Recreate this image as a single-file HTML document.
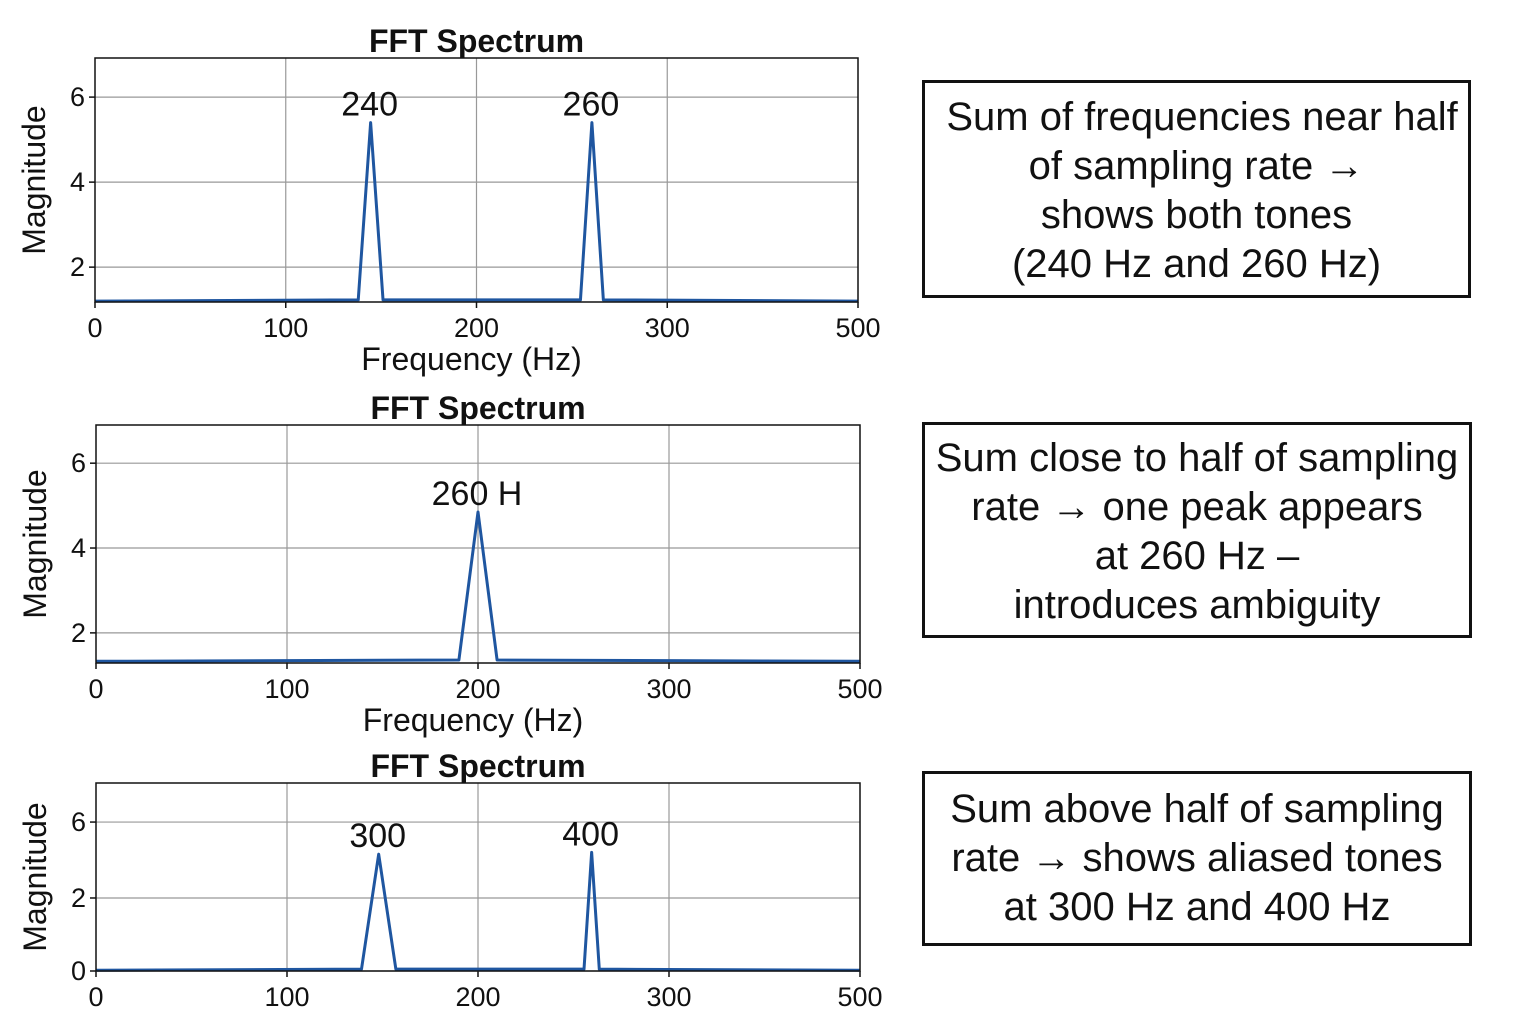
<!DOCTYPE html>
<html><head><meta charset="utf-8"><style>
body{margin:0;background:#fff;width:1536px;height:1024px;overflow:hidden;font-family:"Liberation Sans",sans-serif}
svg text{font-family:"Liberation Sans",sans-serif}
.box{position:absolute;border:3px solid #111;box-sizing:border-box;display:flex;flex-direction:column;justify-content:center;align-items:center;font-size:40px;line-height:49px;text-align:center;color:#111;white-space:nowrap}
</style></head><body>
<svg id="svg" width="1536" height="1024"></svg>
<div class="box" style="left:922px;top:80px;width:549px;height:218px;padding-top:4px"><div>&nbsp;Sum of frequencies near half</div><div>of sampling rate →</div><div>shows both tones</div><div>(240 Hz and 260 Hz)</div></div>
<div class="box" style="left:922px;top:422px;width:550px;height:216px;padding-top:4px"><div>Sum close to half of sampling</div><div>rate → one peak appears</div><div>at 260 Hz –</div><div>introduces ambiguity</div></div>
<div class="box" style="left:922px;top:771px;width:550px;height:175px"><div>Sum above half of sampling</div><div>rate → shows aliased tones</div><div>at 300 Hz and 400 Hz</div></div>
<script>
const xTickVals=[0,100,200,300,400];
const xTickLabels=["0","100","200","300","500"];
const c1PeakFreq=[144.5,260.5];
const c1PeakMag=[5.4,5.4];
const c1PeakWidth=[6.5,6];
const c1Base=1.2;
const c1Labels=["240","260"];
const c2PeakFreq=[200];
const c2PeakMag=[4.85];
const c2PeakWidth=[10];
const c2Base=1.33;
const c2Labels=["260 H"];
const c3PeakFreq=[148,259.5];
const c3PeakMag=[3.2,3.25];
const c3PeakWidth=[9,4];
const c3Base=0.02;
const c3Labels=["300","400"];
const yTick1=[2,4,6], yTick1L=["2","4","6"];
const yTick3=[0,2,4.08], yTick3L=["0","2","6"];

const NS="http://www.w3.org/2000/svg";
const svg=document.getElementById('svg');
function mk(tag,attrs,parent){const e=document.createElementNS(NS,tag);for(const k in attrs)e.setAttribute(k,attrs[k]);(parent||svg).appendChild(e);return e;}
function chart(cfg){
  const g=mk('g',{});
  
  
  const sx=v=>cfg.x0+(v-0)/400*(cfg.x1-cfg.x0);
  const sy=v=>cfg.y1-(v-cfg.ymin)/(cfg.ymax-cfg.ymin)*(cfg.y1-cfg.y0);
  xTickVals.forEach((v,i)=>{
    if(i>0&&i<xTickVals.length-1){const l=mk('line',{x1:sx(v),x2:sx(v),y1:cfg.y0,y2:cfg.y1,stroke:'#999','stroke-width':1.2},g);}
    mk('line',{x1:sx(v),x2:sx(v),y1:cfg.y1,y2:cfg.y1+6,stroke:'#111','stroke-width':1.5},g);
    const t=mk('text',{x:sx(v),y:cfg.y1+35,'text-anchor':'middle','font-size':27,fill:'#111'},g);t.textContent=xTickLabels[i];
    
  });
  cfg.yt.forEach((v,i)=>{
    const l=mk('line',{x1:cfg.x0,x2:cfg.x1,y1:sy(v),y2:sy(v),stroke:'#999','stroke-width':1.2},g);
    
    mk('line',{x1:cfg.x0-6,x2:cfg.x0,y1:sy(v),y2:sy(v),stroke:'#111','stroke-width':1.5},g);
    const t=mk('text',{x:cfg.x0-10,y:sy(v)+9,'text-anchor':'end','font-size':27,fill:'#111'},g);t.textContent=cfg.ytl[i];
    
  });
  let pts=[[0,cfg.base]];
  cfg.pf.forEach((f,i)=>{pts.push([f-cfg.pw[i],cfg.base+0.03],[f,cfg.pm[i]],[f+cfg.pw[i],cfg.base+0.03]);});
  pts.push([400,cfg.base]);
  const p=mk('path',{d:pts.map((q,i)=>(i?'L':'M')+sx(q[0])+' '+sy(q[1])).join(''),fill:'none',stroke:'#1f56a0','stroke-width':3,'stroke-linejoin':'round'},g);
  
  cfg.pf.forEach((f,i)=>{
    const t=mk('text',{x:sx(f)-1,y:sy(cfg.pm[i])-7,'text-anchor':'middle','font-size':34,fill:'#111'},g);t.textContent=cfg.lab[i];
    
  });
  const r=mk('rect',{x:cfg.x0,y:cfg.y0,width:cfg.x1-cfg.x0,height:cfg.y1-cfg.y0,fill:'none',stroke:'#111','stroke-width':1.5},g);
  
  const tt=mk('text',{x:(cfg.x0+cfg.x1)/2,y:cfg.y0-6,'text-anchor':'middle','font-size':32,'font-weight':'bold',fill:'#111'},g);tt.textContent='FFT Spectrum';
  
  const yl=mk('text',{x:0,y:0,transform:`translate(${cfg.x0-50},${(cfg.y0+cfg.y1)/2}) rotate(-90)`,'text-anchor':'middle','font-size':32,fill:'#111'},g);yl.textContent='Magnitude';
  
  if(cfg.xl){const xl=mk('text',{x:(cfg.x0+cfg.x1)/2-5,y:cfg.y1+68,'text-anchor':'middle','font-size':32,fill:'#111'},g);xl.textContent='Frequency (Hz)';
  }
}
chart({name:'chart-1',x0:95,x1:858,y0:58,y1:302,ymin:1.18,ymax:6.92,yt:yTick1,ytl:yTick1L,pf:c1PeakFreq,pm:c1PeakMag,pw:c1PeakWidth,base:c1Base,lab:c1Labels,xl:true});
chart({name:'chart-2',x0:96,x1:860,y0:425,y1:663,ymin:1.29,ymax:6.9,yt:yTick1,ytl:yTick1L,pf:c2PeakFreq,pm:c2PeakMag,pw:c2PeakWidth,base:c2Base,lab:c2Labels,xl:true});
chart({name:'chart-3',x0:96,x1:860,y0:783,y1:971,ymin:0,ymax:5.15,yt:yTick3,ytl:yTick3L,pf:c3PeakFreq,pm:c3PeakMag,pw:c3PeakWidth,base:c3Base,lab:c3Labels,xl:false});
</script>
</body></html>
